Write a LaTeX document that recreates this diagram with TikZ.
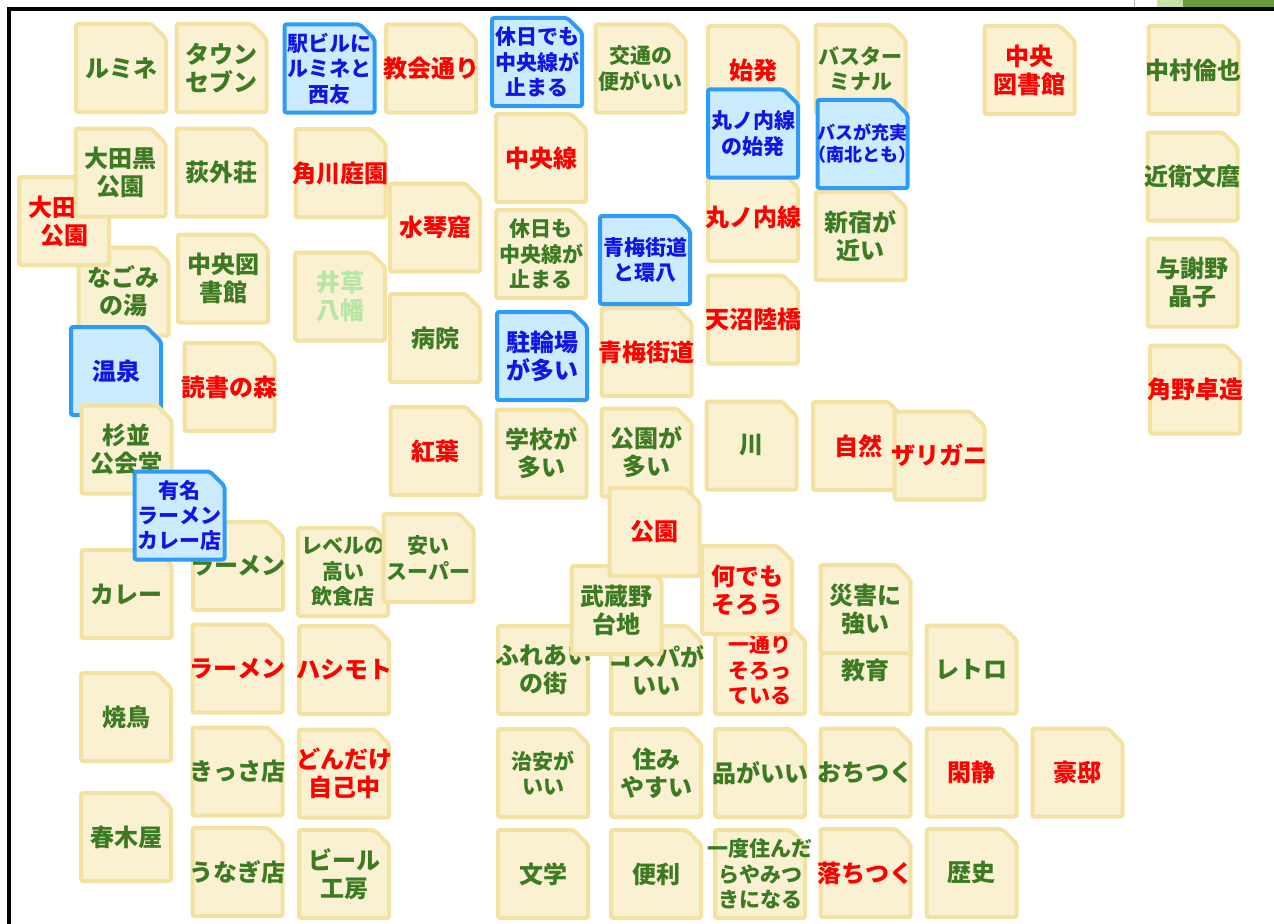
\documentclass[tikz,border=0pt]{standalone}
\usepackage{fontspec}
\setmainfont{Noto Sans CJK JP}

\definecolor{notebg}{HTML}{FAF0D2}
\definecolor{notebd}{HTML}{F3E2A2}
\definecolor{pickbg}{HTML}{CDEBFE}
\definecolor{pickbd}{HTML}{2C9CF8}
\definecolor{pickfg}{HTML}{1414E6}
\definecolor{grfg}{HTML}{3D7B23}
\definecolor{palefg}{HTML}{B8E6A6}
\definecolor{tabdark}{HTML}{6B9B3C}
\definecolor{tablight}{HTML}{C7E1A6}

\newcommand{\bigtxt}{\fontsize{18}{21}\selectfont\bfseries}
\newcommand{\midtxt}{\fontsize{15.75}{19}\selectfont\bfseries}
\newcommand{\smalltxt}{\fontsize{13.5}{16.5}\selectfont\bfseries}

% a rectangle with its north east corner folded away
\makeatletter
\pgfdeclareshape{stickynote}{
	\inheritsavedanchors[from=rectangle]
	\inheritanchorborder[from=rectangle]
	\inheritanchor[from=rectangle]{center}
	\inheritanchor[from=rectangle]{north}
	\inheritanchor[from=rectangle]{south}
	\inheritanchor[from=rectangle]{east}
	\inheritanchor[from=rectangle]{west}
	\backgroundpath{
		\southwest \edef\snxa{\the\pgf@x}\edef\snya{\the\pgf@y}
		\northeast \edef\snxb{\the\pgf@x}\edef\snyb{\the\pgf@y}
		\pgf@x=\snxb \advance\pgf@x by -11pt \edef\snxc{\the\pgf@x}
		\pgf@y=\snyb \advance\pgf@y by -11pt \edef\snyc{\the\pgf@y}
		\pgfpathmoveto{\pgfqpoint{\snxa}{\snya}}
		\pgfpathlineto{\pgfqpoint{\snxa}{\snyb}}
		\pgfpathlineto{\pgfqpoint{\snxc}{\snyb}}
		\pgfpathlineto{\pgfqpoint{\snxb}{\snyc}}
		\pgfpathlineto{\pgfqpoint{\snxb}{\snya}}
		\pgfpathclose
	}
}
\makeatother

\tikzset{
	note/.style={stickynote, minimum width=64.5pt, minimum height=63pt,
		inner xsep=-25pt, inner ysep=0pt,
		line width=3pt, draw=notebd, fill=notebg, rounded corners=1.5pt,
		align=center, font=\bigtxt},
	pick/.style={note, draw=pickbd, fill=pickbg, text=pickfg},
	gr/.style={text=grfg},
	rd/.style={text=red},
	pale/.style={text=palefg},
	mid/.style={font=\midtxt},
	small/.style={font=\smalltxt}
}

\begin{document}
\begin{tikzpicture}[x=0.75pt, y=-0.75pt]
	\useasboundingbox (0,0) rectangle (1274,924);
	% frame of the board
	\fill[tablight] (1157,0) rectangle (1183,7);
	\fill[tabdark] (1183,0) rectangle (1274,7);
	\draw[gray!60, line width=0.6pt] (1134,0) -- (1134,8);
	\draw[line width=3pt] (9,924) -- (9,9) -- (1274,9);

	% column 1
	\node[note, gr] (lumine) at (121,68) {ルミネ};
	\node[note, gr] (nagomi) at (123.5,291.5) {なごみ\\の湯};
	\node[note, rd] (ootaguroR) at (64,221) {大田黒\\公園};
	\node[note, gr] (ootaguroG) at (120.5,172.5) {大田黒\\公園};
	\node[pick] (onsen) at (116,371) {温泉};
	\node[note, gr] (suginami) at (126.5,449.5) {杉並\\公会堂};
	\node[note, gr] (curry) at (126.5,594) {カレー};
	\node[note, gr] (yakitori) at (126,717) {焼鳥};
	\node[note, gr] (harukiya) at (126,837) {春木屋};

	% column 2
	\node[note, gr] (town) at (221.5,68) {タウン\\セブン};
	\node[note, gr] (tekigaiso) at (221.5,172.5) {荻外荘};
	\node[note, gr] (toshokanG) at (223,278.5) {中央図\\書館};
	\node[note, rd] (dokusho) at (229.5,387) {読書の森};
	\node[note, gr] (ramenG) at (238,566) {ラーメン};
	\node[pick, mid] (yuumei) at (179.5,515.5) {有名\\ラーメン\\カレー店};
	\node[note, rd] (ramenR) at (237.5,668.5) {ラーメン};
	\node[note, gr] (kissa) at (237.5,771.5) {きっさ店};
	\node[note, gr] (unagi) at (237.5,872) {うなぎ店};

	% column 3
	\node[pick, mid] (ekibiru) at (329.5,68.5) {駅ビルに\\ルミネと\\西友};
	\node[note, rd] (kadokawa) at (340.5,173) {角川庭園};
	\node[note, pale] (igusa) at (340,296.5) {井草\\八幡};
	\node[note, gr, mid] (level) at (343,572) {レベルの\\高い\\飲食店};
	\node[note, gr, mid] (yasui) at (428.5,558) {安い\\スーパー};
	\node[note, rd] (hashimoto) at (344,670) {ハシモト};
	\node[note, rd] (dondake) at (344,773.5) {どんだけ\\自己中};
	\node[note, gr] (beer) at (344,874) {ビール\\工房};

	% column 4
	\node[note, rd] (kyoukai) at (431,68.5) {教会通り};
	\node[note, rd] (suikin) at (435,227.5) {水琴窟};
	\node[note, gr] (byouin) at (435,338) {病院};
	\node[note, rd] (kouyou) at (435.5,451) {紅葉};

	% column 5
	\node[pick, mid] (kyujitsuB) at (537,62) {休日でも\\中央線が\\止まる};
	\node[note, rd] (chuosen) at (541,158) {中央線};
	\node[note, gr, mid] (kyujitsuG) at (541,254) {休日も\\中央線が\\止まる};
	\node[pick] (churin) at (542,356) {駐輪場\\が多い};
	\node[note, gr] (gakkou) at (541.5,453.5) {学校が\\多い};
	\node[note, gr] (fureai) at (543,670) {ふれあい\\の街};
	\node[note, gr, mid] (chian) at (543,773) {治安が\\いい};
	\node[note, gr] (bungaku) at (543,874) {文学};

	% column 6
	\node[note, gr, mid] (koutsuu) at (640.5,68.5) {交通の\\便がいい};
	\node[note, rd] (oumeR) at (646.5,352) {青梅街道};
	\node[pick, mid] (oumeB) at (645,260) {青梅街道\\と環八};
	\node[note, gr] (kouenG) at (646.5,452.5) {公園が\\多い};
	\node[note, gr] (cospa) at (656,670) {コスパが\\いい};
	\node[note, gr] (musashino) at (616.5,610) {武蔵野\\台地};
	\node[note, rd] (kouenR) at (654.5,532) {公園};
	\node[note, gr] (sumi) at (656,773) {住み\\やすい};
	\node[note, gr] (benri) at (656,874) {便利};

	% column 7
	\node[note, rd] (shihatsu) at (753,70) {始発};
	\node[note, rd] (marunouchiR) at (753,217) {丸ノ内線};
	\node[pick, mid] (marunouchiB) at (753,133.5) {丸ノ内線\\の始発};
	\node[note, rd] (amanuma) at (753,319.5) {天沼陸橋};
	\node[note, gr] (kawa) at (751.5,445.5) {川};
	\node[note, rd, mid] (hitotoori) at (760,670) {一通り\\そろっ\\ている};
	\node[note, rd] (nandemo) at (747,590) {何でも\\そろう};
	\node[note, gr] (hin) at (760,773) {品がいい};
	\node[note, gr, mid] (ichido) at (760,874) {一度住んだ\\らやみつ\\きになる};

	% column 8
	\node[note, gr, mid] (busterm) at (860.5,69) {バスター\\ミナル};
	\node[note, gr] (shinjuku) at (860.5,236) {新宿が\\近い};
	\node[pick, small] (busjujitsu) at (862.5,144) {バスが充実\\（南北とも）};
	\node[note, rd] (shizen) at (858,446) {自然};
	\node[note, rd] (zarigani) at (939.5,455.5) {ザリガニ};
	\node[note, gr] (kyouiku) at (865.5,670) {教育};
	\node[note, gr] (saigai) at (865.5,609) {災害に\\強い};
	\node[note, gr] (ochitsuku) at (865.5,772.5) {おちつく};
	\node[note, rd] (ochitsukuR) at (865.5,873) {落ちつく};

	% column 9 and 10
	\node[note, gr] (retro) at (971.5,669.5) {レトロ};
	\node[note, rd] (kansei) at (971.5,772.5) {閑静};
	\node[note, gr] (rekishi) at (971.5,873) {歴史};
	\node[note, rd] (toshokanR) at (1029.5,70) {中央\\図書館};
	\node[note, rd] (goutei) at (1077.5,772.5) {豪邸};

	% people
	\node[note, gr] (nakamura) at (1193.5,70) {中村倫也};
	\node[note, gr] (konoe) at (1192.5,176.5) {近衛文麿};
	\node[note, gr] (yosano) at (1192.5,282.5) {与謝野\\晶子};
	\node[note, rd] (kadono) at (1195,389.5) {角野卓造};
\end{tikzpicture}
\end{document}
